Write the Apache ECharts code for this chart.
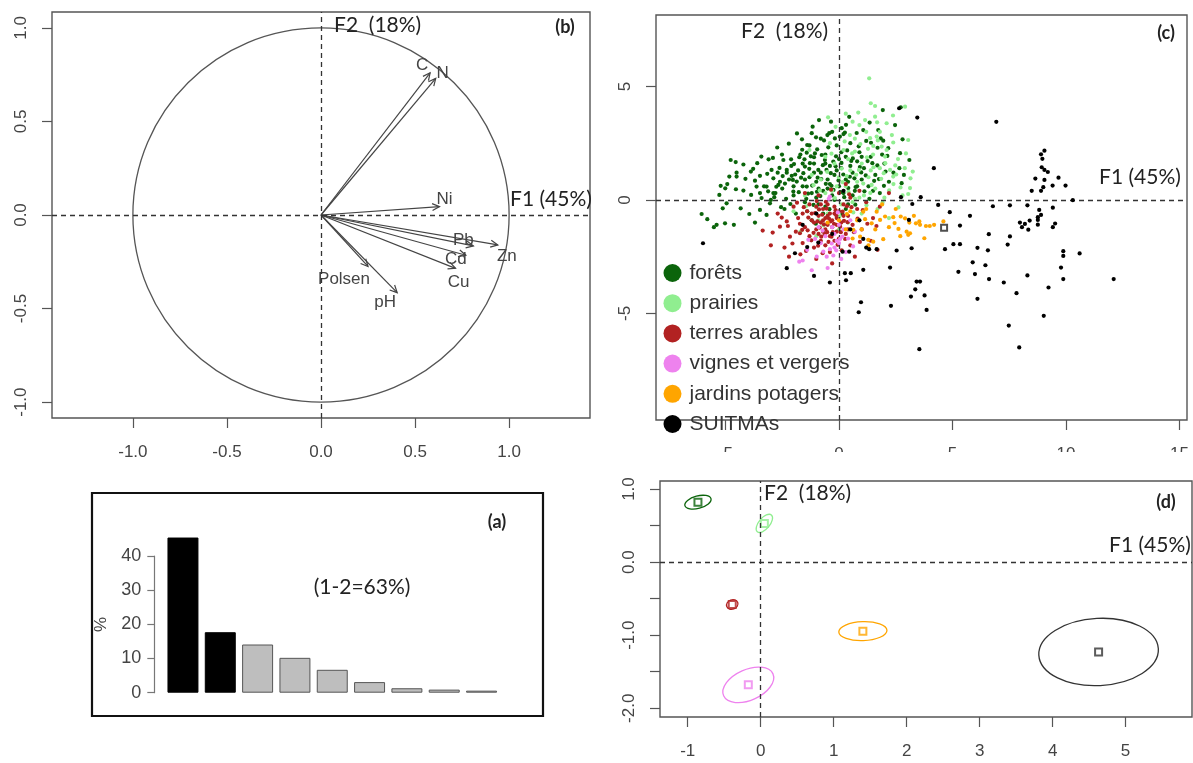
<!DOCTYPE html>
<html>
<head>
<meta charset="utf-8">
<script src="https://cdn.jsdelivr.net/npm/echarts@6/dist/echarts.min.js"></script>
<style>
  html, body { margin: 0; padding: 0; background: #fff; }
  #chart { width: 1193px; height: 763px; }
</style>
</head>
<body>
<div id="chart"></div>
<script>
// ---------- (a) eigenvalues, % of inertia per axis ----------
const eigenLabels = ['F1', 'F2', 'F3', 'F4', 'F5', 'F6', 'F7', 'F8', 'F9'];
const eigenPct = [45.4, 17.7, 14.1, 10.2, 6.7, 3.1, 1.3, 0.9, 0.6];
const eigenKept = 2;

// ---------- (b) correlation circle ----------
const varNames = ['C', 'N', 'Ni', 'Pb', 'Zn', 'Cd', 'Cu', 'Polsen', 'pH'];
const varF1 = [0.58, 0.61, 0.63, 0.81, 0.94, 0.77, 0.715, 0.25, 0.405];
const varF2 = [0.76, 0.73, 0.045, -0.165, -0.16, -0.215, -0.285, -0.275, -0.415];

// ---------- (c) individuals on F1 x F2, by land use ----------
const groupNames = ['forêts', 'prairies', 'terres arables', 'vignes et vergers', 'jardins potagers', 'SUITMAs'];

const forets = [
  [-1.16,3.23],[-1.2,2.94],[-1.01,2.76],[-1.63,2.67],[-1.4,2.42],[-0.96,2.23],[-0.51,2.86],[-0.43,2.94],
  [-4.77,1.76],[-4.55,1.67],[-4.21,1.56],[-3.42,1.91],[-3.1,1.79],[-2.91,1.85],[-2.51,2.0],[-2.45,1.76],[-2.11,1.79],[-1.75,1.88],
  [-3.78,1.37],[-3.48,1.06],[-4.51,1.2],[-4.83,1.03],[-4.51,1.03],[-3.88,1.25],[-3.16,1.15],[-2.97,1.32],
  [-5.21,0.62],[-4.92,0.7],[-5.01,0.51],[-4.54,0.47],[-4.21,0.41],[-3.7,0.85],[-3.63,0.59],[-5.27,0.22],
  [-2.89,0.95],[-2.67,0.66],[-2.3,1.32],[-2.08,1.06],[-1.86,0.81],[-1.57,1.18],[-1.5,1.47],[-1.28,1.62],[-1.1,1.88],
  [-0.76,1.98],[-0.62,1.76],[-0.25,1.69],[-0.91,1.32],[-3.19,0.59],[-2.89,0.3],[-3.48,0.3],[-2.01,0.37],[-1.42,0.59],
  [-6.05,-0.62],[-5.8,-0.85],[-5.12,-0.37],[-4.95,-0.15],[-5.51,-1.2],[-5.39,-1.1],[-5.02,-1.03],[-4.63,-1.1],
  [-3.95,-0.62],[-3.7,-1.0],[-4.33,-0.37],[-3.48,-0.44],[-3.19,-0.66],[-3.04,-0.15],
  [2.72,4.08],[1.93,3.96],[2.47,3.3],[2.8,2.67],[1.73,3.08],[1.07,3.08],[1.95,2.61],[2.17,2.28],[2.69,2.06],
  [3.1,1.76],[2.66,1.4],[2.86,1.1],[2.76,0.74],[0.26,2.97],[0.12,3.16],[0.04,2.79],
  [-2.5,0.5],[-2.2,0.9],[-2.0,0.2],[-1.8,1.3],[-1.6,0.6],[-1.5,-0.1],[-1.3,1.0],[-1.2,0.3],[-1.1,1.6],[-1.0,0.8],
  [-0.9,-0.2],[-0.8,1.2],[-0.7,0.4],[-0.6,2.0],[-0.5,0.9],[-0.4,1.5],[-0.3,0.2],[-0.2,1.1],[-0.1,2.4],[0.0,0.6],
  [0.1,1.4],[0.2,0.3],[0.3,1.9],[0.4,0.8],[0.5,2.5],[0.6,1.2],[0.7,0.4],[0.8,1.7],[0.9,2.1],[1.0,0.9],
  [1.1,1.4],[1.2,2.6],[1.3,0.6],[1.4,1.9],[1.6,1.1],[1.7,2.3],[1.8,0.3],[2.0,1.6],[2.2,0.8],[-2.7,1.2],
  [-3.0,0.0],[-2.4,-0.4],[-1.9,-0.6],[-1.4,-0.5],[-0.6,-0.3],[0.3,-0.4],[-3.3,0.6],[-2.8,0.3],[-2.1,1.5],[-1.7,2.0],
  [-1.3,2.4],[-0.8,2.7],[-0.3,3.0],[0.2,2.9],[-0.2,0.0],[-0.5,0.5],[-1.0,0.1],[-1.5,0.9],[-2.0,0.6],[-2.6,0.8],
  [0.0,1.8],[0.5,1.5],[1.0,1.9],[0.8,0.6],[0.3,0.9],[-0.1,1.3],[-0.6,1.6],[-1.1,1.2],[-1.6,1.6],[-2.3,1.2],
  [-0.4,0.7],[-0.9,0.5],[0.6,0.2],[1.5,0.4],[0.1,2.1],[-0.7,-0.6],[-1.2,-0.9],[0.4,-0.2],[1.9,2.0],[2.4,1.2],
  [-2.85,0.12],[-2.62,1.41],[-2.38,0.72],[-2.14,-0.18],[-1.93,1.12],[-1.77,0.34],[-1.62,2.21],[-1.44,0.05],
  [-1.31,1.37],[-1.18,0.63],[-1.06,2.05],[-0.94,0.98],[-0.82,0.17],[-0.71,1.53],[-0.58,0.71],[-0.47,2.32],
  [-0.36,1.18],[-0.24,0.44],[-0.13,1.92],[-0.02,0.86],[0.11,1.63],[0.23,0.12],[0.36,2.18],[0.48,1.02],
  [0.61,1.83],[0.73,0.57],[0.87,2.36],[0.98,1.21],[1.12,0.38],[1.26,1.71],[1.41,2.52],[1.55,0.84],
  [1.69,1.52],[1.84,2.71],[1.98,0.62],[2.13,1.94],[-2.55,-0.32],[-2.03,0.88],[-1.52,1.79],[-1.12,-0.22],
  [-0.66,2.62],[-0.18,2.71],[0.31,3.31],[0.78,2.95],[1.35,3.41],[-3.41,0.08],[-3.87,0.22],[-4.12,0.93],
  [-3.6,1.62],[-2.72,2.31],[-2.21,2.48],[-1.85,2.93],[-0.88,3.52],[-0.35,3.45],[0.45,3.66],[-1.02,-1.05],
  [-0.42,-0.41],[0.15,-0.62],[0.72,-0.21],[1.34,0.05],
  [-2.33,0.05],[-1.98,1.58],[-1.67,0.98],[-1.36,0.28],[-1.24,1.92],[-0.97,0.36],[-0.78,0.92],[-0.55,1.32],
  [-0.33,0.62],[-0.15,1.48],[0.06,0.34],[0.19,1.12],[0.41,0.52],[0.54,1.72],[0.68,0.95],[0.92,1.45],
  [1.18,1.08],[1.47,1.62],[1.76,0.92],[2.05,1.25],[-2.76,0.58],[-3.12,0.38],[-2.48,1.05],[-1.42,2.08]
];

const prairies = [
  [1.33,5.36],[1.4,4.26],[1.59,4.14],[2.91,4.11],[0.6,3.45],[1.15,3.52],[1.59,3.67],[2.1,3.38],[3.05,2.64],[2.39,2.53],
  [1.37,2.72],[1.66,2.79],[3.25,1.25],[2.25,1.32],[3.13,0.52],[3.05,0.26],[2.39,1.03],[2.03,1.91],[1.88,2.35],[1.51,2.38],
  [0.7,2.13],[0.48,2.86],[-0.48,3.64],
  [-1.5,0.2],[-1.0,-0.3],[-0.8,0.9],[-0.5,-0.6],[-0.3,0.4],[0.0,1.0],[0.1,-0.2],[0.3,0.6],[0.5,1.3],[0.6,-0.1],
  [0.8,0.8],[1.0,1.6],[1.1,0.2],[1.3,1.0],[1.5,2.0],[1.6,0.5],[1.8,1.4],[2.0,0.1],[2.1,2.2],[2.4,0.7],
  [2.6,1.8],[-0.2,1.6],[0.2,2.2],[0.7,2.7],[1.2,3.0],[-0.6,1.9],[-1.2,1.1],[-2.0,-0.5],[-1.7,-1.4],[-1.0,-1.6],
  [0.4,-1.0],[1.0,-0.6],[1.7,-0.4],[2.8,0.2],[2.2,-0.8],[0.9,3.3],[0.3,3.8],[1.8,3.0],[-0.4,2.5],[-0.9,-0.9],
  [0.0,-1.3],[-0.6,0.3],[0.9,0.1],[1.4,1.3],[0.4,1.8],[-0.1,0.6],[-1.3,2.2],[2.9,1.4],
  [-0.85,0.42],[-0.52,1.24],[-0.18,0.08],[0.12,1.38],[0.42,0.35],[0.58,2.05],[0.76,1.11],[0.94,2.46],[1.07,0.72],
  [1.23,1.88],[1.38,0.31],[1.52,1.44],[1.71,2.62],[1.86,0.93],[2.04,1.62],[2.21,0.42],[2.33,2.86],[2.52,1.12],
  [2.71,0.55],[0.25,2.58],[-0.33,2.04],[-1.12,0.65],[-1.45,-0.28],[-0.68,-1.12],[0.02,-0.72],[0.63,-0.55],
  [1.21,-0.23],[1.92,-0.12],[2.62,-0.33],[3.15,0.95],[2.95,2.05],[0.85,3.85],[1.68,3.42],[2.38,3.72],[-0.15,3.22],
  [0.34,1.05],[0.88,1.32],[1.44,0.66],[1.97,1.18],[0.16,0.78],[0.71,0.05],[1.28,2.25],[2.48,1.52]
];

const terresArables = [
  [-3.36,-1.35],[-2.92,-1.44],[-2.6,-1.18],[-2.3,-0.95],[-2.16,-1.62],[-1.72,-1.47],
  [-2.0,-0.3],[-1.8,-0.8],[-1.6,-1.9],[-1.5,-1.2],[-1.4,-0.5],[-1.3,-1.6],[-1.2,-0.9],[-1.1,-2.1],[-1.0,-0.3],[-1.0,-1.3],
  [-0.9,-0.7],[-0.8,-1.8],[-0.8,-1.0],[-0.7,-0.4],[-0.7,-1.4],[-0.6,-0.8],[-0.6,-2.0],[-0.5,-1.1],[-0.5,-0.2],[-0.4,-1.6],
  [-0.4,-0.6],[-0.3,-1.2],[-0.3,-0.9],[-0.2,-0.3],[-0.2,-1.8],[-0.1,-0.8],[-0.1,-1.4],[0.0,-0.5],[0.1,-1.0],[0.2,-0.2],
  [0.3,-1.5],[0.4,-0.7],[0.5,0.1],[0.6,-1.1],[0.8,-0.4],[1.0,-1.3],[1.2,-0.1],[1.5,-0.8],[1.8,-0.3],[2.2,0.3],
  [-1.9,-1.4],[-1.6,-0.6],[-1.3,-0.2],[-1.1,-1.0],[-0.9,-1.5],[-0.8,-0.2],[-0.6,-1.3],[-0.5,-0.7],[-0.4,-2.3],[-0.2,-0.6],
  [0.0,-1.7],[0.2,-0.7],[-2.4,-2.1],[-2.7,-0.6],[-1.7,-2.4],[-1.0,-2.6],[0.5,-2.0],[1.4,-1.8],[0.9,0.4],[-1.5,0.3],
  [-0.9,0.2],[0.0,0.3],[0.3,0.7],[-2.2,-2.5],[-3.0,-2.0],[-0.3,-2.8],[0.7,-2.5],[1.7,-2.2],[-1.2,-0.6],[-0.7,-0.9],
  [-0.1,-1.1],[0.4,-1.3],
  [-1.72,-1.05],[-1.55,-0.32],[-1.38,-1.34],[-1.22,-1.78],[-1.05,-0.58],[-0.92,-2.02],[-0.85,-1.22],[-0.74,-0.65],
  [-0.63,-1.52],[-0.55,-0.38],[-0.46,-1.85],[-0.38,-0.95],[-0.27,-1.42],[-0.15,-0.45],[-0.06,-1.98],[0.05,-1.18],
  [0.16,-0.52],[0.27,-1.72],[0.38,-0.98],[0.55,-0.32],[0.66,-1.42],[0.82,-0.82],[1.05,-0.45],[1.25,-1.05],
  [-2.25,-1.15],[-2.05,-1.92],[-1.85,-0.12],[-2.52,-0.78],[-1.45,-2.25],[-0.72,-2.35],[0.12,-2.22],[0.92,-1.85],
  [1.65,-1.15],[-0.98,-0.05],[-0.35,0.45],[0.45,0.25],
  [-1.12,-1.45],[-0.95,-0.95],[-0.78,-1.62],[-0.66,-1.08],[-0.52,-1.42],[-0.44,-0.82],[-0.33,-1.62],[-0.22,-1.05],
  [-0.12,-0.68],[0.08,-1.42],[0.22,-0.92],[-1.35,-0.78],[-1.62,-1.32],[-0.88,-0.42],[-0.58,-0.08],[0.35,-0.28]
];

const vignesVergers = [
  [-0.69,-2.28],[-0.98,-2.5],[-1.6,-2.67],[-0.4,-2.17],[-1.35,-1.76],[-0.54,-2.5],[-0.2,-1.5],[0.0,-1.9],
  [-0.3,-1.2],[0.2,-1.3],[-0.4,0.15],[-0.1,-1.8],[0.4,-1.7],[-0.8,-1.9],[-1.2,-3.1],[-1.75,-2.72],
  [0.3,-2.3],[-0.5,-3.0],[0.5,-0.9],[-0.9,-1.2],[0.1,-2.6],[-0.2,-2.1],[-0.6,-1.6],[0.0,-1.1],
  [0.7,-1.4],[-1.4,-2.2],[-0.25,-2.45],[0.15,-1.62],[-0.72,-1.35],[-1.05,-1.72],[0.62,-2.05],[-0.05,-0.55],
  [-0.32,-1.92],[-0.12,-2.22],[0.05,-1.72],[-0.45,0.05]
];

const jardinsPotagers = [
  [2.03,-0.73],[2.39,-0.76],[2.72,-0.73],[2.91,-0.81],[3.1,-1.0],[3.39,-1.03],[3.57,-1.1],[3.54,-0.95],
  [3.83,-1.15],[4.0,-1.15],[4.19,-1.1],[2.98,-1.4],[3.13,-1.47],[3.05,-1.54],[3.76,-1.69],[4.6,-0.95],
  [1.44,-1.03],[1.81,-0.88],[1.07,-0.52],[1.66,-0.52],[1.29,-1.76],[1.51,-1.84],[1.95,-1.73],[0.63,-1.32],
  [0.93,-1.62],[0.5,-0.5],[0.8,-0.9],[1.2,-0.4],[0.3,-1.3],[0.0,-0.9],[1.0,-1.3],[1.6,-1.3],
  [2.2,-1.2],[2.5,-0.4],[1.9,-0.2],[-0.5,-1.0],[0.6,-1.7],[1.3,-2.0],[2.7,-1.6],[3.3,-0.7],
  [2.45,-1.02],[2.62,-1.28],[1.15,-0.85],[0.35,-0.62]
];

const suitmas = [
  [6.93,3.44],[9.05,2.17],[8.9,2.01],[8.96,1.81],[8.93,1.44],[9.05,1.32],[9.2,1.23],[8.65,0.94],[9.05,0.88],
  [9.67,0.98],[9.41,0.63],[9.98,0.63],[8.49,0.4],[8.9,0.4],[9.0,0.56],[10.3,-0.01],[6.78,-0.28],[7.53,-0.24],
  [8.3,-0.24],[8.82,-0.44],[9.42,-0.34],[8.9,-0.66],[8.76,-0.76],[8.76,-0.88],[8.76,-1.09],[8.4,-0.91],[7.97,-1.0],
  [8.19,-1.06],[8.06,-1.2],[8.34,-1.31],[9.52,-1.04],[9.42,-1.2],[5.77,-0.7],[6.6,-1.51],[7.53,-1.61],[7.43,-1.97],
  [6.1,-2.11],[6.56,-2.22],[9.88,-2.26],[9.88,-2.47],[10.6,-2.36],[5.89,-2.75],[6.45,-2.88],[9.78,-2.98],[5.99,-3.27],
  [6.61,-3.49],[8.3,-3.33],[7.26,-3.64],[9.88,-3.49],[12.1,-3.49],[9.23,-3.86],[7.82,-4.11],[6.1,-4.36],[9.02,-5.11],
  [7.48,-5.54],[7.94,-6.5],
  [2.73,0.12],[3.23,-0.18],[4.37,-0.22],[3.6,0.12],[4.88,-0.54],[5.33,-1.13],[3.08,-0.88],[2.54,-2.23],[3.2,-2.13],
  [4.67,-2.17],[5.04,-1.95],[5.33,-1.95],[1.33,-2.17],[1.66,-2.17],[0.45,-2.28],[0.16,-2.28],[2.25,-2.98],[1.07,-3.08],
  [0.26,-3.23],[0.52,-3.23],[0.31,-3.54],[5.26,-3.17],[3.42,-3.6],[3.57,-3.6],[3.36,-3.94],[3.17,-4.26],[3.77,-4.21],
  [0.97,-4.51],[2.29,-4.67],[3.86,-4.85],[0.87,-4.95],[-0.4,-3.64],[1.07,-1.72],
  [3.45,3.63],[2.65,4.04],[4.18,1.4],[-5.99,-1.91],[-2.3,-3.01],[-1.1,-3.35],[3.54,-6.58],
  [-1.94,-2.35],[-1.4,-2.08],[-0.91,-1.88],[0.5,-1.3],[-1.0,-0.6],[1.2,-2.1],[0.9,-0.9],[-0.3,-1.5],[0.2,0.4],[-1.6,-1.1]
];

// ---------- (d) group centres and confidence ellipses ----------
const centreF1 = [-0.86, 0.05, -0.39, -0.17, 1.40, 4.63];
const centreF2 = [0.82, 0.53, -0.58, -1.68, -0.945, -1.23];
const ellipseA = [0.185, 0.15, 0.08, 0.37, 0.33, 0.82];
const ellipseB = [0.085, 0.075, 0.065, 0.21, 0.13, 0.46];
const ellipseAngleDeg = [15, 50, 20, 24, 2, 3];

// ---------- styling ----------
const groupColors = ['#0b640b', '#90ee90', '#b22222', '#ee82ee', '#ffa500', '#000000'];
const groupData = [forets, prairies, terresArables, vignesVergers, jardinsPotagers, suitmas];
const labelNudge = {
  C: [-8, -7], N: [7, -5], Ni: [5, -7], Pb: [-10, -6], Zn: [9, 11],
  Cd: [-10, 4], Cu: [3, 14], Polsen: [-24, 13], pH: [-12, 10]
};
const tickFont = 'Liberation Sans, Arial, sans-serif';
const noteFont = 'Lato, sans-serif';
const axisColor = '#555';
const textColor = '#444';

const dashed = {
  silent: true, symbol: ['none', 'none'], label: { show: false },
  lineStyle: { type: [5, 4], color: '#333', width: 1.3 },
  emphasis: { disabled: true },
  data: [{ xAxis: 0 }, { yAxis: 0 }]
};

function valueAxis(gridIndex, min, max, ticks, labels, fmt, isY) {
  return {
    type: 'value', gridIndex, min, max,
    axisLine: { show: false, onZero: false },
    splitLine: { show: false },
    axisTick: { show: true, length: 10, customValues: ticks, lineStyle: { color: axisColor, width: 1.2 } },
    axisLabel: {
      customValues: labels, formatter: fmt, color: textColor, fontSize: 17,
      fontFamily: tickFont, margin: isY ? 22 : 26, rotate: isY ? 90 : 0
    }
  };
}
const f1 = v => v.toFixed(1);
const f0 = v => String(v);

const frameGrid = (left, top, width, height) => ({
  left, top, width, height, show: true, borderColor: axisColor, borderWidth: 1.4, backgroundColor: 'transparent'
});

const option = {
  animation: false,
  backgroundColor: '#fff',
  grid: [
    frameGrid(52, 12, 538, 406),        // (b)
    frameGrid(656, 15, 531, 405),       // (c)
    { left: 164.3, top: 556, width: 335.9, height: 136.7 }, // (a)
    frameGrid(660, 481, 532, 236)       // (d)
  ],
  xAxis: [
    valueAxis(0, -1.43, 1.43, [-1, -0.5, 0, 0.5, 1], [-1, -0.5, 0, 0.5, 1], f1, false),
    valueAxis(1, -8.06, 15.33, [-5, 0, 5, 10, 15], [-5, 0, 5, 10, 15], f0, false),
    { type: 'category', gridIndex: 2, data: eigenLabels, show: false },
    valueAxis(3, -1.38, 5.91, [-1, 0, 1, 2, 3, 4, 5], [-1, 0, 1, 2, 3, 4, 5], f0, false)
  ],
  yAxis: [
    valueAxis(0, -1.085, 1.085, [-1, -0.5, 0, 0.5, 1], [-1, -0.5, 0, 0.5, 1], f1, true),
    valueAxis(1, -9.7, 8.15, [-5, 0, 5], [-5, 0, 5], f0, true),
    {
      type: 'value', gridIndex: 2, min: 0, max: 40, interval: 10, offset: 10,
      splitLine: { show: false },
      axisLine: { show: true, onZero: false, lineStyle: { color: '#777', width: 1.2 } },
      axisTick: { show: true, length: 7, lineStyle: { color: '#777', width: 1.2 } },
      axisLabel: { color: textColor, fontSize: 18, fontFamily: tickFont, margin: 13 },
      name: '%', nameLocation: 'middle', nameGap: 44, nameRotate: 90,
      nameTextStyle: { color: textColor, fontSize: 17, fontFamily: tickFont }
    },
    valueAxis(3, -2.12, 1.11, [-2, -1.5, -1, -0.5, 0, 0.5, 1], [-2, -1, 0, 1], f1, true)
  ],
  legend: {
    data: groupNames.map(n => ({ name: n, icon: 'circle' })),
    orient: 'vertical', left: 663.5, top: 262.5, padding: 0,
    itemWidth: 18, itemHeight: 18, itemGap: 9.2,
    textStyle: { fontSize: 21, lineHeight: 18, fontFamily: tickFont, color: '#333', padding: [0, 0, 0, 3] },
    selectedMode: false
  },
  series: []
};

// (b) unit circle with the axis cross
option.series.push({
  type: 'custom', xAxisIndex: 0, yAxisIndex: 0, silent: true,
  data: [[0, 0]],
  renderItem: (params, api) => {
    const c = api.coord([0, 0]);
    const s = api.size([1, 1]);
    return { type: 'ellipse', shape: { cx: c[0], cy: c[1], rx: s[0], ry: s[1] },
      style: { stroke: '#555', lineWidth: 1.3, fill: null } };
  },
  markLine: dashed
});

// (b) variable arrows
option.series.push({
  type: 'custom', xAxisIndex: 0, yAxisIndex: 0, silent: true,
  data: varF1.map((v, i) => [v, varF2[i]]),
  renderItem: (params, api) => {
    const i = params.dataIndex;
    const o = api.coord([0, 0]);
    const t = api.coord([api.value(0), api.value(1)]);
    const ang = Math.atan2(t[1] - o[1], t[0] - o[0]);
    const L = 8, a = 0.45;
    const h1 = [t[0] - L * Math.cos(ang - a), t[1] - L * Math.sin(ang - a)];
    const h2 = [t[0] - L * Math.cos(ang + a), t[1] - L * Math.sin(ang + a)];
    const nd = labelNudge[varNames[i]];
    return { type: 'group', children: [
      { type: 'line', shape: { x1: o[0], y1: o[1], x2: t[0], y2: t[1] }, style: { stroke: '#444', lineWidth: 1.2 } },
      { type: 'polyline', shape: { points: [h1, t, h2] }, style: { stroke: '#444', lineWidth: 1.2, fill: null } },
      { type: 'text', x: t[0] + nd[0], y: t[1] + nd[1],
        style: { text: varNames[i], fill: textColor, fontSize: 17, fontFamily: tickFont,
          align: 'center', verticalAlign: 'middle', textAlign: 'center', textVerticalAlign: 'middle' } }
    ] };
  }
});

// (c) individuals
groupData.forEach((pts, g) => {
  option.series.push({
    name: groupNames[g], type: 'scatter', xAxisIndex: 1, yAxisIndex: 1,
    data: pts, symbolSize: 4.2, silent: true,
    itemStyle: { color: groupColors[g], opacity: 1 },
    markLine: g === 0 ? dashed : undefined,
    z: 2 + g
  });
});
// (c) SUITMAs centre
option.series.push({
  type: 'scatter', xAxisIndex: 1, yAxisIndex: 1, silent: true,
  data: [[centreF1[5], centreF2[5]]], symbol: 'emptyRect', symbolSize: 6,
  itemStyle: { color: '#222', borderWidth: 1.2 }, z: 10
});

// (a) eigenvalue bars
option.series.push({
  type: 'bar', xAxisIndex: 2, yAxisIndex: 2, silent: true, clip: false,
  barWidth: '83%',
  data: eigenPct.map((v, i) => ({
    value: v,
    itemStyle: i < eigenKept
      ? { color: '#000', borderColor: '#000', borderWidth: 1 }
      : { color: '#bebebe', borderColor: '#555', borderWidth: 1 }
  }))
});

// (d) ellipses
option.series.push({
  type: 'custom', xAxisIndex: 3, yAxisIndex: 3, silent: true,
  data: centreF1.map((v, i) => [v, centreF2[i]]),
  renderItem: (params, api) => {
    const i = params.dataIndex;
    const c = api.coord([api.value(0), api.value(1)]);
    const rx = api.size([ellipseA[i], 0])[0];
    const ry = api.size([0, ellipseB[i]])[1];
    return { type: 'ellipse', x: c[0], y: c[1], rotation: ellipseAngleDeg[i] * Math.PI / 180,
      shape: { cx: 0, cy: 0, rx, ry },
      style: { stroke: groupColors[i] === '#000000' ? '#333' : groupColors[i], lineWidth: 1.3, fill: null } };
  },
  markLine: dashed
});
// (d) centres
option.series.push({
  type: 'scatter', xAxisIndex: 3, yAxisIndex: 3, silent: true,
  data: centreF1.map((v, i) => ({ value: [v, centreF2[i]], itemStyle: { color: groupColors[i] === '#000000' ? '#333' : groupColors[i] } })),
  symbol: 'emptyRect', symbolSize: 7, itemStyle: { borderWidth: 1.2 }
});

// annotations
const note = (x, y, text, opts = {}) => ({
  type: 'text', x, y, z: 100, silent: true,
  style: Object.assign({ text, fill: '#222', font: `${opts.bold ? 'bold ' : ''}${opts.size || 21}px ${noteFont}`,
    align: opts.align || 'left', verticalAlign: 'middle', textAlign: opts.align || 'left', textVerticalAlign: 'middle' })
});
option.graphic = [
  // frame around (a)
  { type: 'rect', shape: { x: 92, y: 493, width: 451, height: 223 }, z: 100, silent: true,
    style: { fill: null, stroke: '#111', lineWidth: 2.2 } },
  // the lower edge of (c) ends under its tick labels
  { type: 'rect', shape: { x: 620, y: 452, width: 573, height: 25 }, z: 90, silent: true, style: { fill: '#fff' } },
  note(334, 25, 'F2  (18%)'), note(510, 199, 'F1 (45%)'), note(565, 27, '(b)', { bold: true, size: 18, align: 'center' }),
  note(741, 31, 'F2  (18%)'), note(1099, 177, 'F1 (45%)'), note(1166, 33, '(c)', { bold: true, size: 18, align: 'center' }),
  note(764, 493, 'F2  (18%)'), note(1109, 545, 'F1 (45%)'), note(1166, 502, '(d)', { bold: true, size: 18, align: 'center' }),
  note(362, 587, '(1-2=63%)', { align: 'center' }), note(497, 522, '(a)', { bold: true, size: 18, align: 'center' })
];

const chart = echarts.init(document.getElementById('chart'), null, { renderer: 'canvas' });
chart.setOption(option);
</script>
</body>
</html>
